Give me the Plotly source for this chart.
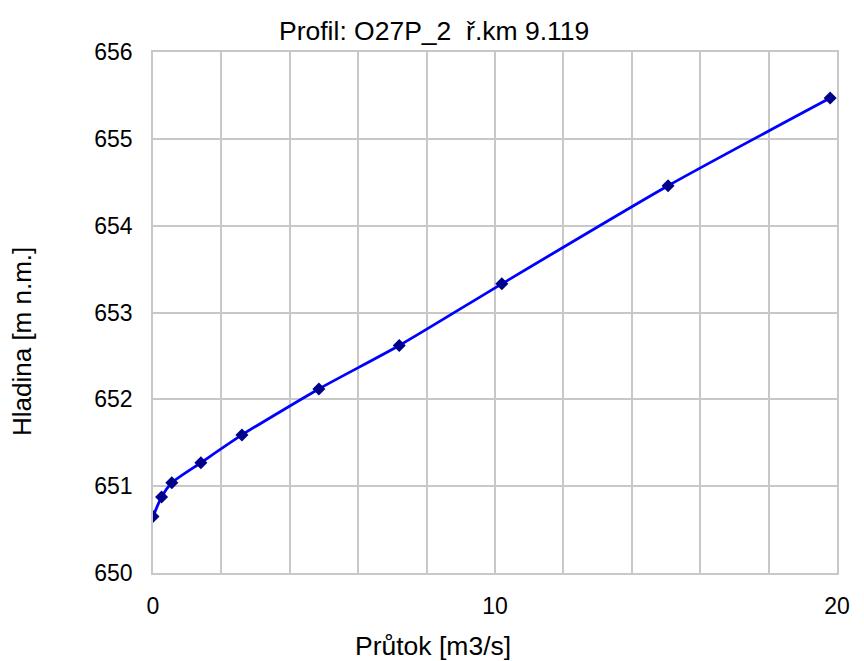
import plotly.graph_objects as go

# Rating curve: discharge vs. water level
prutok = [0, 0.25, 0.55, 1.4, 2.6, 4.85, 7.2, 10.2, 15.06, 19.8]
hladina = [650.65, 650.875, 651.04, 651.27, 651.59, 652.12, 652.62, 653.33, 654.46, 655.47]

x_ticks = [0, 10, 20]
y_ticks = [650, 651, 652, 653, 654, 655, 656]

title_text = "Profil: O27P_2  ř.km 9.119"
x_title = "Průtok [m3/s]"
y_title = "Hladina [m n.m.]"

font_family = "Liberation Sans, Arial, sans-serif"
grid_color = "#C8C8C8"

W, H = 864, 661
L, R, T, B = 153, 27, 52, 88
plot_w = W - L - R
plot_h = H - T - B


def paper_x(px):
    return (px - L) / plot_w


def paper_y(py):
    return (H - B - py) / plot_h


fig = go.Figure()
fig.add_trace(go.Scatter(
    x=prutok,
    y=hladina,
    mode="lines+markers",
    line=dict(color="#0000FF", width=2.8, shape="spline", smoothing=0.6),
    marker=dict(symbol="diamond", size=10, color="#00008B",
                line=dict(color="#00008B", width=0)),
    showlegend=False,
    hoverinfo="x+y",
))

fig.update_layout(
    width=W,
    height=H,
    margin=dict(l=L, r=R, t=T, b=B),
    paper_bgcolor="white",
    plot_bgcolor="white",
    font=dict(family=font_family, color="#000000"),
)

# Chart title and axis titles, placed as annotations
fig.add_annotation(text=title_text, xref="paper", yref="paper",
                   x=paper_x(434), y=paper_y(31), xanchor="center", yanchor="middle",
                   showarrow=False, font=dict(size=26.5, color="#000000"))
fig.add_annotation(text=x_title, xref="paper", yref="paper",
                   x=paper_x(433), y=paper_y(646), xanchor="center", yanchor="middle",
                   showarrow=False, font=dict(size=26.5, color="#000000"))
fig.add_annotation(text=y_title, xref="paper", yref="paper",
                   x=paper_x(22), y=paper_y(342), xanchor="center", yanchor="middle",
                   textangle=-90, showarrow=False, font=dict(size=26, color="#000000"))

fig.update_xaxes(
    range=[0, 20],
    tickvals=x_ticks,
    ticktext=[str(v) for v in x_ticks],
    tickfont=dict(size=23),
    ticks="",
    ticklabelstandoff=12,
    showgrid=True,
    gridcolor=grid_color,
    gridwidth=1.5,
    minor=dict(dtick=2, showgrid=True, gridcolor=grid_color, gridwidth=1.5),
    showline=True,
    linecolor=grid_color,
    linewidth=1.5,
    mirror=True,
    zeroline=False,
)

fig.update_yaxes(
    range=[650, 656],
    tickvals=y_ticks,
    ticktext=[str(v) for v in y_ticks],
    tickfont=dict(size=23),
    ticks="",
    ticklabelstandoff=14,
    showgrid=True,
    gridcolor=grid_color,
    gridwidth=1.5,
    showline=True,
    linecolor=grid_color,
    linewidth=1.5,
    mirror=True,
    zeroline=False,
)

fig.write_html("out.html")
